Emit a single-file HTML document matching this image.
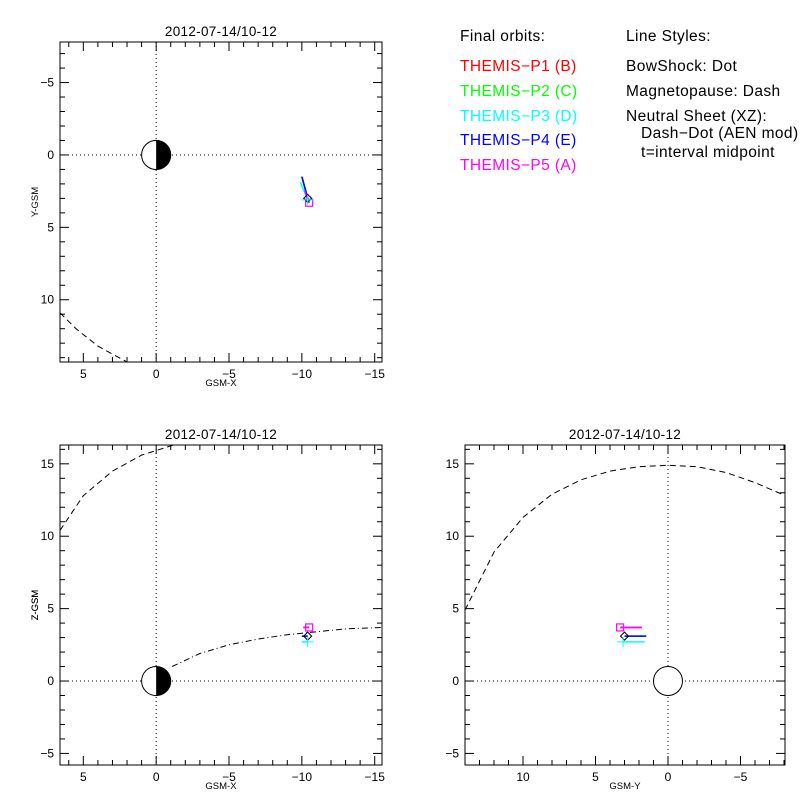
<!DOCTYPE html>
<html><head><meta charset="utf-8"><style>
body{margin:0;background:#fff}
svg{display:block;font-family:"Liberation Sans",sans-serif}
.lg{font-size:15.5px;letter-spacing:0.4px}
</style></head><body>
<svg id="chart" width="800" height="800" viewBox="0 0 800 800">
<rect width="800" height="800" fill="#fff"/>
<g class="lg">
<text x="460" y="41" style="fill:#000">Final orbits:</text>
<text x="460" y="71" style="fill:#ff0000">THEMIS−P1 (B)</text>
<text x="460" y="96" style="fill:#00ff00">THEMIS−P2 (C)</text>
<text x="460" y="121" style="fill:#00ffff">THEMIS−P3 (D)</text>
<text x="460" y="145" style="fill:#0000ff">THEMIS−P4 (E)</text>
<text x="460" y="170" style="fill:#ff00ff">THEMIS−P5 (A)</text>
</g>
<g class="lg">
<text x="626" y="41">Line Styles:</text>
<text x="626" y="71">BowShock: Dot</text>
<text x="626" y="96">Magnetopause: Dash</text>
<text x="626" y="121">Neutral Sheet (XZ):</text>
<text x="641" y="138">Dash−Dot (AEN mod)</text>
<text x="641" y="157">t=interval midpoint</text>
</g>
</svg>
<script>
// Panel axes
const xTicksX=[5,0,-5,-10,-15];
const yTicksXY=[-5,0,5,10];
const zTicks=[-5,0,5,10,15];
const yTicksY=[10,5,0,-5];
// Spacecraft final positions (GSM): x, y, z
const scX=[-10.5,-10.4,-10.4,-10.4,-10.5];
const scY=[3.3,3.0,3.1,3.0,3.3];
const scZ=[3.7,3.1,2.7,3.1,3.7];
// Orbit tails (start points) in XY
const tailX=[-10.0,-10.0,-9.9,-10.0,-10.2];
const tailY=[1.5,1.5,1.9,1.5,2.5];
// Magnetopause (XY)
const mpXYx=[6.6,5.5,4.0,2.0];
const mpXYy=[10.9,12.0,13.2,14.3];
// Magnetopause (XZ)
const mpXZx=[6.6,5.0,3.0,1.0,-1.2];
const mpXZz=[10.4,12.8,14.5,15.6,16.3];
// Neutral sheet (XZ)
const nsX=[-1.1,-3,-5,-7,-9,-11,-13,-15.5];
const nsZ=[1.0,1.9,2.5,2.9,3.2,3.4,3.6,3.7];
// Magnetopause (YZ)
const mpYZy=[14.0,12,10,8,6,4,2,0,-2,-4,-6,-8.1];
const mpYZz=[4.9,8.9,11.3,12.9,13.9,14.5,14.8,14.9,14.8,14.4,13.7,12.8];
const colors=['#ff0000','#00ff00','#00ffff','#0000ff','#ff00ff'];

const svg=document.getElementById('chart');
const NS='http://www.w3.org/2000/svg';
function mk(tag,attrs,parent){const e=document.createElementNS(NS,tag);for(const k in attrs)e.setAttribute(k,attrs[k]);(parent||svg).appendChild(e);return e;}

function panel(name,px0,py0,px1,py1,xd,yd,xt,yt,xlab,ylab){
  const g=mk('g',{});
  
  
  const sx=v=>px0+(v-xd[0])/(xd[1]-xd[0])*(px1-px0);
  const sy=v=>py0+(v-yd[0])/(yd[1]-yd[0])*(py1-py0);
  const fr=mk('rect',{x:px0,y:py0,width:px1-px0,height:py1-py0,fill:'none',stroke:'#000','stroke-width':1},g);
  
  
  const lo=Math.ceil(Math.min(xd[0],xd[1])),hi=Math.floor(Math.max(xd[0],xd[1]));
  for(let v=lo;v<=hi;v++){const X=sx(v);const L=(v%5===0)?9:5;
    mk('line',{x1:X,y1:py1,x2:X,y2:py1-L,stroke:'#000'},g);mk('line',{x1:X,y1:py0,x2:X,y2:py0+L,stroke:'#000'},g);}
  const lo2=Math.ceil(Math.min(yd[0],yd[1])),hi2=Math.floor(Math.max(yd[0],yd[1]));
  for(let v=lo2;v<=hi2;v++){const Y=sy(v);const L=(v%5===0)?9:5;
    mk('line',{x1:px0,y1:Y,x2:px0+L,y2:Y,stroke:'#000'},g);mk('line',{x1:px1,y1:Y,x2:px1-L,y2:Y,stroke:'#000'},g);}
  xt.forEach(v=>{const t=mk('text',{x:sx(v),y:py1+16,'text-anchor':'middle','font-size':'12'},g);t.textContent=v<0?'−'+(-v):''+v;
    });
  yt.forEach(v=>{const t=mk('text',{x:px0-6,y:sy(v)+4,'text-anchor':'end','font-size':'12'},g);t.textContent=v<0?'−'+(-v):''+v;
    });
  const xl=mk('text',{x:(px0+px1)/2,y:py1+24,'text-anchor':'middle','font-size':'9.5'},g);xl.textContent=xlab;
  
  const yl=mk('text',{x:0,y:0,'text-anchor':'middle','font-size':'9.5',transform:`translate(38,${(py0+py1)/2}) rotate(-90)`},g);yl.textContent=ylab;
  
  const ti=mk('text',{x:(px0+px1)/2,y:py0-6,'text-anchor':'middle','font-size':'13.5','letter-spacing':'0.3'},g);ti.textContent='2012-07-14/10-12';
  
  mk('line',{x1:sx(0),y1:py0,x2:sx(0),y2:py1,stroke:'#000','stroke-dasharray':'1 3'},g);
  mk('line',{x1:px0,y1:sy(0),x2:px1,y2:sy(0),stroke:'#000','stroke-dasharray':'1 3'},g);
  const cp=mk('clipPath',{id:'c'+name},g);mk('rect',{x:px0,y:py0,width:px1-px0,height:py1-py0},cp);
  const inner=mk('g',{'clip-path':`url(#c${name})`},g);
  return {g:inner,sx,sy};
}
function poly(p,xs,ys,dash,name){
  const d=xs.map((v,i)=>(i?'L':'M')+p.sx(v).toFixed(1)+' '+p.sy(ys[i]).toFixed(1)).join('');
  const e=mk('path',{d,fill:'none',stroke:'#000','stroke-dasharray':dash},p.g);
  
  
}
function earth(p,half,name){
  const cx=p.sx(0),cy=p.sy(0),r=Math.abs(p.sx(1)-p.sx(0));
  const e=mk('g',{},p.g);
  
  
  mk('circle',{cx,cy,r,fill:'#fff',stroke:'#000'},e);
  if(half)mk('path',{d:`M${cx} ${cy-r}A${r} ${r} 0 0 1 ${cx} ${cy+r}Z`,fill:'#000'},e);
}
function markers(p,hx,hy,tx,ty){
  for(let i=0;i<5;i++){
    const l=mk('line',{x1:p.sx(tx[i]),y1:p.sy(ty[i]),x2:p.sx(hx[i]),y2:p.sy(hy[i]),stroke:colors[i],'stroke-width':1.5},p.g);
    
    }
  let X=p.sx(hx[4]),Y=p.sy(hy[4]);
  const s=mk('rect',{x:X-3.5,y:Y-3.5,width:7,height:7,fill:'none',stroke:colors[4],'stroke-width':1.2},p.g);
  
  X=p.sx(hx[3]);Y=p.sy(hy[3]);
  const d=mk('path',{d:`M${X} ${Y-4}L${X+4} ${Y}L${X} ${Y+4}L${X-4} ${Y}Z`,fill:'none',stroke:'#000'},p.g);
  
  X=p.sx(hx[2]);Y=p.sy(hy[2]);
  const pl=mk('path',{d:`M${X-6} ${Y}H${X+6}M${X} ${Y-5}V${Y+5}`,fill:'none',stroke:colors[2]},p.g);
  
}

const pXY=panel('panel-xy',60,42,382,362,[6.6,-15.5],[-7.8,14.3],xTicksX,yTicksXY,'GSM-X','Y-GSM');
earth(pXY,true,'earth-xy');
poly(pXY,mpXYx,mpXYy,'6 4','magnetopause-xy');
markers(pXY,scX,scY,tailX,tailY);

const pXZ=panel('panel-xz',60,445,382,765,[6.6,-15.5],[16.3,-5.8],xTicksX,zTicks,'GSM-X','Z-GSM');
earth(pXZ,true,'earth-xz');
poly(pXZ,mpXZx,mpXZz,'6 4','magnetopause-xz');
poly(pXZ,nsX,nsZ,'6 3 1 3','neutral-sheet-xz');
markers(pXZ,scX,scZ,scX.map(v=>v+0.4),scZ);

const pYZ=panel('panel-yz',465,445,785,765,[14.0,-8.07],[16.3,-5.8],yTicksY,zTicks,'GSM-Y','Z-GSM');
earth(pYZ,false,'earth-yz');
poly(pYZ,mpYZy,mpYZz,'6 4','magnetopause-yz');
markers(pYZ,scY,scZ,scY.map(v=>v-1.5),scZ);
</script>
</body></html>
